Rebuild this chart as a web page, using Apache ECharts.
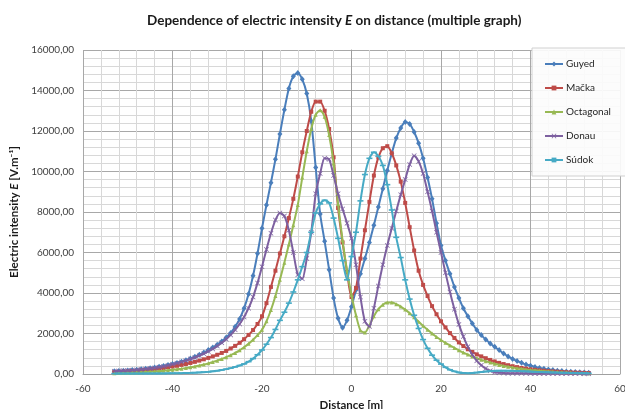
<!DOCTYPE html>
<html>
<head>
<meta charset="utf-8">
<script src="https://cdn.jsdelivr.net/npm/echarts@6/dist/echarts.min.js"></script>
<style>
html,body{margin:0;padding:0;background:#fff;}
#c{width:625px;height:409px;}
</style>
</head>
<body>
<div id="c"></div>
<script>
var distance = [-53,-52,-51,-50,-49,-48,-47,-46,-45,-44,-43,-42,-41,-40,-39,-38,-37,-36,-35,-34,-33,-32,-31,-30,-29,-28,-27,-26,-25,-24,-23,-22,-21,-20,-19,-18,-17,-16,-15,-14,-13,-12,-11,-10,-9,-8,-7,-6,-5,-4,-3,-2,-1,0,1,2,3,4,5,6,7,8,9,10,11,12,13,14,15,16,17,18,19,20,21,22,23,24,25,26,27,28,29,30,31,32,33,34,35,36,37,38,39,40,41,42,43,44,45,46,47,48,49,50,51,52,53];

var guyed = [135,148,160,175,192,212,235,260,288,320,355,395,440,490,545,610,680,760,850,950,1060,1180,1310,1450,1610,1800,2030,2330,2720,3250,3950,4850,5950,7200,8350,9450,10600,11850,13050,14100,14700,14870,14550,13850,12500,10200,7900,6550,5150,3750,2750,2290,2650,
3320,4150,4950,5700,6500,7350,8250,9150,10050,10900,11650,12150,12450,12350,11950,11400,10650,9700,8650,7450,6350,5600,4950,4300,3750,3250,2850,2500,2170,1920,1700,1510,1340,1180,1010,870,745,640,550,470,405,348,300,258,222,192,166,144,125,108,94,82,72,64];

var macka = [93,103,114,126,140,155,173,193,215,240,268,298,330,365,405,450,495,545,600,660,725,795,870,950,1040,1140,1260,1390,1540,1720,1930,2170,2470,2850,3500,4300,5100,5950,6800,7700,8650,9750,10950,12000,12950,13450,13450,13000,12100,10700,8200,6500,5050,
3800,4250,5700,7100,8500,9800,10700,11150,11250,10900,10300,9500,8450,7250,6100,5100,4400,3850,3350,2950,2600,2300,2020,1780,1560,1380,1220,1090,970,870,780,695,620,550,490,435,385,340,300,265,235,208,184,162,143,127,113,101,90,80,71,63,56,50];

var octagonal = [39,45,52,60,68,78,88,100,113,128,145,163,184,207,233,262,295,330,370,415,465,525,590,660,740,830,930,1040,1170,1320,1490,1690,1920,2180,2600,3160,3850,4650,5500,6400,7350,8350,9700,11000,12100,12800,13030,12700,11800,10400,8400,6600,5100,
3900,2900,2150,2050,2400,2850,3200,3420,3530,3530,3450,3330,3180,3000,2800,2580,2380,2180,2000,1830,1680,1540,1410,1290,1170,1060,960,870,780,700,630,565,505,450,400,360,320,285,255,225,200,180,160,140,125,110,95,85,75,65,55,48,42,36];

var donau = [137,147,158,170,185,202,222,244,268,300,335,375,425,480,535,595,660,735,815,905,1005,1115,1240,1380,1540,1720,1930,2180,2470,2820,3250,3800,4500,5300,6150,6950,7600,7950,7800,7100,6000,4900,4700,5700,7000,8900,9900,10650,10600,9800,8900,8150,7450,
6700,5400,3800,2600,2350,3250,4350,5400,6350,7200,8050,8850,9600,10350,10780,10500,9900,9000,8050,7000,6000,5000,4050,3200,2450,1850,1350,950,650,430,270,160,90,60,48,42,38,36,34,32,30,29,28,27,26,25,24,23,22,21,20,19,18,17];

var sudok = [18,19,19,20,20,21,22,23,24,25,27,29,31,34,38,43,49,56,65,76,90,108,130,160,195,240,290,350,420,500,610,760,950,1185,1470,1800,2200,2650,3050,3500,4050,4650,5300,6000,7000,7950,8400,8580,8450,7700,6700,5600,4650,
5800,7000,8550,9850,10650,10950,10750,10300,9350,8100,6750,5750,4650,3700,2900,2250,1700,1270,930,680,490,330,210,130,75,45,40,50,70,95,120,140,155,165,165,160,155,148,140,130,120,110,100,92,84,76,68,62,56,50,45,40,36,32];

var seriesNames = ['Guyed','Mačka','Octagonal','Donau','Súdok'];
var seriesValues = [guyed, macka, octagonal, donau, sudok];
var seriesColors = ['#4A7EBB','#BE4B48','#98B954','#7D60A0','#46AAC5'];
var xTicks = [-60,-40,-20,0,20,40,60];
var yTicks = [0,2000,4000,6000,8000,10000,12000,14000,16000];

var symbols = [
  {symbol:'diamond', size:[5,6]},
  {symbol:'rect', size:4},
  {symbol:'triangle', size:4},
  {symbol:'path://M0,1L1,0L5,4L9,0L10,1L6,5L10,9L9,10L5,6L1,10L0,9L4,5Z', size:5},
  {symbol:'rect', size:[6,1.6]}
];

function pairs(vals){
  return distance.map(function(d,i){ return [d, vals[i]]; });
}

var FONT = 'Lato';
var chart = echarts.init(document.getElementById('c'), null, {renderer:'canvas'});

var series = seriesNames.map(function(n, k){
  return {
    name: n,
    type: 'line',
    data: pairs(seriesValues[k]),
    smooth: 0.25,
    symbol: symbols[k].symbol,
    symbolSize: symbols[k].size,
    showSymbol: true,
    lineStyle: {width: 2, color: seriesColors[k]},
    itemStyle: {color: seriesColors[k], borderWidth: 0},
    emphasis: {disabled: true},
    z: 2 + k
  };
});

chart.setOption({
  animation: false,
  backgroundColor: '#ffffff',
  textStyle: {fontFamily: FONT},
  title: {
    text: '{b|Dependence of electric intensity }{bi|E}{b| on distance (multiple graph)}',
    left: 142,
    top: 9,
    textStyle: {
      rich: {
        b: {fontFamily: FONT, fontSize: 13.5, fontWeight: 'bold', color: '#1a1a1a'},
        bi: {fontFamily: FONT, fontSize: 13.5, fontWeight: 'bold', fontStyle: 'italic', color: '#1a1a1a'}
      }
    }
  },
  grid: {left: 83, right: 5, top: 50, bottom: 35, containLabel: false, outerBoundsMode: 'none'},
  xAxis: {
    type: 'value',
    min: xTicks[0],
    max: xTicks[xTicks.length-1],
    interval: 20,
    name: 'Distance [m]',
    nameLocation: 'middle',
    nameGap: 22,
    nameTextStyle: {fontFamily: FONT, fontSize: 11.5, fontWeight: 'bold', color: '#1a1a1a'},
    axisLine: {show: true, onZero: false, lineStyle: {color: '#a0a0a0'}},
    axisTick: {show: false},
    axisLabel: {fontFamily: FONT, fontSize: 10, color: '#404040', margin: 10},
    splitLine: {show: true, lineStyle: {color: '#a8a8a8', width: 1}},
    minorTick: {show: false, splitNumber: 5},
    minorSplitLine: {show: true, lineStyle: {color: '#d8d8d8', width: 1}}
  },
  yAxis: {
    type: 'value',
    min: yTicks[0],
    max: yTicks[yTicks.length-1],
    interval: 2000,
    name: '{b|Electric intensity }{bi|E}{b| [V.m⁻¹]}',
    nameLocation: 'middle',
    nameRotate: 90,
    nameGap: 54,
    nameTextStyle: {
      rich: {
        b: {fontFamily: FONT, fontSize: 11.5, fontWeight: 'bold', color: '#1a1a1a'},
        bi: {fontFamily: FONT, fontSize: 11.5, fontWeight: 'bold', fontStyle: 'italic', color: '#1a1a1a'}
      }
    },
    axisLine: {show: true, lineStyle: {color: '#a0a0a0'}},
    axisTick: {show: false},
    axisLabel: {
      fontFamily: FONT, fontSize: 10, color: '#404040', margin: 9,
      formatter: function(v){ return v.toFixed(2).replace('.', ','); }
    },
    splitLine: {show: true, lineStyle: {color: '#a8a8a8', width: 1}},
    minorTick: {show: false, splitNumber: 5},
    minorSplitLine: {show: true, lineStyle: {color: '#d8d8d8', width: 1}}
  },
  graphic: [{
    type: 'rect',
    shape: {x: 532, y: 48, width: 95, height: 128},
    style: {fill: 'rgba(252,252,252,0.92)', stroke: '#d0d0d0', lineWidth: 1},
    z: 20
  }],
  legend: {
    orient: 'vertical',
    left: 539,
    top: 54,
    itemWidth: 18,
    itemHeight: 6,
    itemGap: 14,
    z: 30,
    textStyle: {fontFamily: FONT, fontSize: 10, color: '#262626', padding: [0,0,0,-2]},
    data: seriesNames
  },
  series: series
});
</script>
</body>
</html>
